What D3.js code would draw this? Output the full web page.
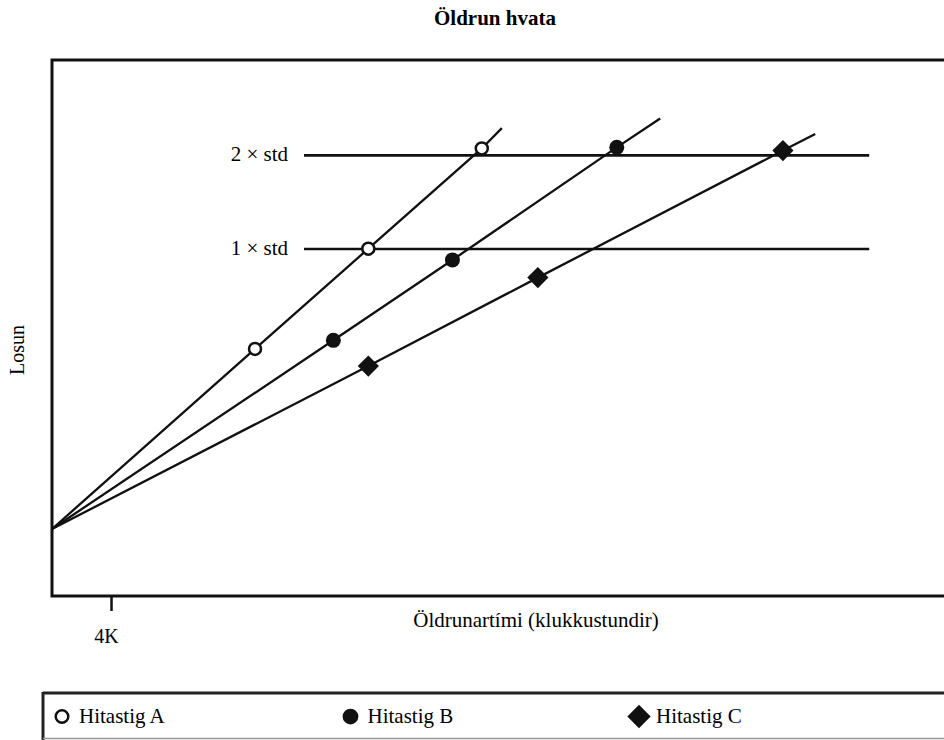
<!DOCTYPE html>
<html>
<head>
<meta charset="utf-8">
<script src="https://cdn.jsdelivr.net/npm/d3@7/dist/d3.min.js"></script>
<style>
  html, body { margin: 0; padding: 0; background: #fff; }
  svg { display: block; }
  text { font-family: "Liberation Serif", "DejaVu Serif", serif; fill: #000; }
</style>
</head>
<body>
<svg id="chart" width="944" height="740"></svg>
<script>
// Catalyst ageing: release vs. ageing time for three temperature levels
const seriesNames = ["Hitastig A", "Hitastig B", "Hitastig C"];
const seriesShapes = ["openCircle", "filledCircle", "diamond"];

// common starting point of all three lines (thousand clock hours, release)
const startPoint = [0, 12.5];

// measured points per series
const hoursA = [13.76, 21.44, 29.13];
const releaseA = [46.1, 64.8, 83.5];
const hoursB = [19.07, 27.14, 38.28];
const releaseB = [47.7, 62.7, 83.7];
const hoursC = [21.44, 32.93, 49.54];
const releaseC = [42.9, 59.4, 83.1];

// where each fitted line stops
const endHours = [30.49, 41.22, 51.73];
const endRelease = [87.3, 89.1, 86.2];

// threshold lines
const thresholdLabels = ["1 × std", "2 × std"];
const thresholdValues = [64.74, 82.2];
const thresholdSpan = [17.08, 55.39];

// x tick
const xTickValues = [4];
const xTickLabels = ["4K"];

const titleText = "Öldrun hvata";
const xLabelText = "Öldrunartími (klukkustundir)";
const yLabelText = "Losun";

const svg = d3.select("#chart");

const plot = { left: 52, top: 60, right: 952, bottom: 596 };

const x = d3.scaleLinear().domain([0, 61]).range([plot.left, plot.right]);
const y = d3.scaleLinear().domain([0, 100]).range([plot.bottom, plot.top]);

const series = [
  { name: seriesNames[0], shape: seriesShapes[0], xs: hoursA, ys: releaseA },
  { name: seriesNames[1], shape: seriesShapes[1], xs: hoursB, ys: releaseB },
  { name: seriesNames[2], shape: seriesShapes[2], xs: hoursC, ys: releaseC }
].map((s, i) => {
  const pts = s.xs.map((v, j) => [v, s.ys[j]]);
  return { ...s, points: pts, path: [startPoint, ...pts, [endHours[i], endRelease[i]]] };
});

// title
svg.append("text")
  .attr("x", 495).attr("y", 25)
  .attr("text-anchor", "middle")
  .attr("font-weight", "bold")
  .attr("font-size", 21)
  .text(titleText);

// plot frame (right side runs past the page edge)
svg.append("rect")
  .attr("x", x(0)).attr("y", y(100))
  .attr("width", x(61) - x(0)).attr("height", y(0) - y(100))
  .attr("fill", "none").attr("stroke", "#111").attr("stroke-width", 3);

// x axis with a single tick
const xAxis = d3.axisBottom(x)
  .tickValues(xTickValues)
  .tickFormat((d, i) => xTickLabels[i])
  .tickSizeOuter(0)
  .tickSizeInner(15)
  .tickPadding(18);
const gx = svg.append("g").attr("transform", `translate(0,${plot.bottom})`).call(xAxis);
gx.select(".domain").remove();
gx.selectAll(".tick line").attr("stroke", "#111").attr("stroke-width", 2.5);
gx.selectAll(".tick text")
  .attr("font-family", "Liberation Serif, serif")
  .attr("font-size", 20)
  .attr("dx", -5)
  .attr("fill", "#000");

// axis titles
svg.append("text")
  .attr("x", 536).attr("y", 627)
  .attr("text-anchor", "middle")
  .attr("font-size", 21)
  .text(xLabelText);

svg.append("text")
  .attr("transform", "translate(24,350) rotate(-90)")
  .attr("text-anchor", "middle")
  .attr("font-size", 20)
  .text(yLabelText);

// threshold lines
const thr = svg.append("g");
thresholdValues.forEach((v, i) => {
  thr.append("line")
    .attr("x1", x(thresholdSpan[0])).attr("x2", x(thresholdSpan[1]))
    .attr("y1", y(v)).attr("y2", y(v))
    .attr("stroke", "#111").attr("stroke-width", 2.6);
  thr.append("text")
    .attr("x", x(thresholdSpan[0]) - 16).attr("y", y(v) + 6)
    .attr("text-anchor", "end")
    .attr("font-size", 21)
    .text(thresholdLabels[i]);
});

// series lines
const line = d3.line().x(d => x(d[0])).y(d => y(d[1]));
svg.append("g").selectAll("path").data(series).join("path")
  .attr("d", d => line(d.path))
  .attr("fill", "none").attr("stroke", "#111").attr("stroke-width", 2.3);

// marker drawing
function drawMarker(g, shape, cx, cy, scale) {
  if (shape === "openCircle") {
    g.append("circle").attr("cx", cx).attr("cy", cy).attr("r", 6 * scale)
      .attr("fill", "#fff").attr("stroke", "#111").attr("stroke-width", 2.5);
  } else if (shape === "filledCircle") {
    g.append("circle").attr("cx", cx).attr("cy", cy).attr("r", 7.5 * scale)
      .attr("fill", "#111");
  } else {
    const s = 15 * scale;
    g.append("path")
      .attr("d", d3.symbol().type(d3.symbolSquare).size(s * s)())
      .attr("transform", `translate(${cx},${cy}) rotate(45)`)
      .attr("fill", "#111");
  }
}

const markers = svg.append("g");
series.forEach(s => {
  s.points.forEach(p => drawMarker(markers, s.shape, x(p[0]), y(p[1]), 1));
});

// legend box (runs past the right and bottom edges)
const legend = svg.append("g");
legend.append("line").attr("x1", 43).attr("x2", 944).attr("y1", 693).attr("y2", 693)
  .attr("stroke", "#222").attr("stroke-width", 3);
legend.append("line").attr("x1", 43).attr("x2", 43).attr("y1", 692).attr("y2", 740)
  .attr("stroke", "#222").attr("stroke-width", 3);
legend.append("line").attr("x1", 43).attr("x2", 944).attr("y1", 738.5).attr("y2", 738.5)
  .attr("stroke", "#999").attr("stroke-width", 1.5);

const legendX = d3.scaleLinear().domain([0, 1]).range([62, 350.5]);
series.forEach((s, i) => {
  const cx = legendX(i);
  drawMarker(legend, s.shape, cx, 716.5, s.shape === "diamond" ? 1.1 : 1.05);
  legend.append("text")
    .attr("x", cx + 17).attr("y", 723)
    .attr("font-size", 21)
    .text(s.name);
});
</script>
</body>
</html>
